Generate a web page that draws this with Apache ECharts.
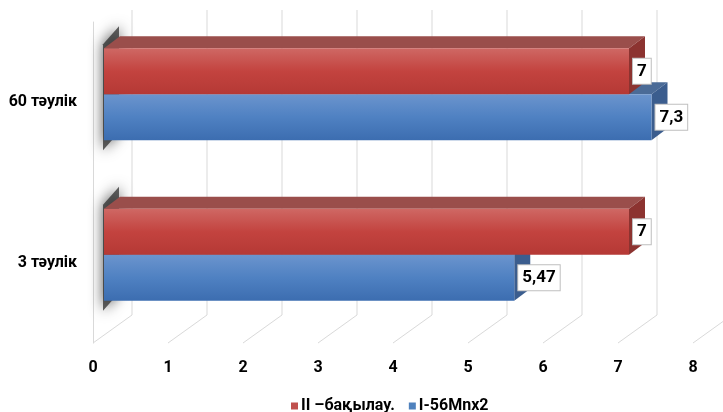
<!DOCTYPE html>
<html>
<head>
<meta charset="utf-8">
<script src="https://cdn.jsdelivr.net/npm/echarts@6/dist/echarts.min.js"></script>
<style>
  html, body { margin: 0; padding: 0; background: #ffffff; }
  #chart { width: 723px; height: 412px; }
</style>
</head>
<body>
<div id="chart"></div>
<script>
// Categories (bottom to top on the category axis)
const categories = ['3 тәулік', '60 тәулік'];
// Series names
const controlName = 'II –бақылау.';
const treatedName = 'I-56Mnx2';
// Values per category, same order as categories
const controlValues = [7, 7];
const treatedValues = [5.47, 7.3];
// Value axis ticks
const xTicks = [0, 1, 2, 3, 4, 5, 6, 7, 8];

const FONT = "'Liberation Sans Narrow', 'Arial Narrow', Roboto, sans-serif";

// Oblique projection used for the pseudo-3D look
const FRONT_SHIFT = [11, -8];     // bar front face relative to the floor's front edge
const BAR_DEPTH = [16, -12];      // depth of each bar
const WALL_DEPTH_BOTTOM = [39, -28];
const WALL_TOP_RAISE = 12;
const BAR_THICK = 46;

const palette = {
  red: {
    front: ['#cf6864', '#c3433f', '#b53935'],
    top: '#9a4e4b',
    side: '#8c3330',
    legend: '#c0504d'
  },
  blue: {
    front: ['#6b94cd', '#4f81c2', '#3c6db0'],
    top: '#4b6b97',
    side: '#3b5d8e',
    legend: '#4f81bd'
  }
};

function fmt(v) {
  return String(v).replace('.', ',');
}

function makeBarRenderer(colors, upper) {
  return function (params, api) {
    const value = api.value(0);
    const cat = api.value(1);
    const p0 = api.coord([0, cat]);
    const p1 = api.coord([value, cat]);
    const x0 = p0[0] + FRONT_SHIFT[0];
    const x1 = p1[0] + FRONT_SHIFT[0];
    const yc = p1[1] + FRONT_SHIFT[1];
    const yTop = upper ? yc - BAR_THICK : yc;
    const yBot = upper ? yc : yc + BAR_THICK;
    const dx = BAR_DEPTH[0], dy = BAR_DEPTH[1];
    return {
      type: 'group',
      children: [
        {
          type: 'polygon',
          shape: { points: [[x0, yTop], [x1, yTop], [x1 + dx, yTop + dy], [x0 + dx, yTop + dy]] },
          style: { fill: colors.top }
        },
        {
          type: 'polygon',
          shape: { points: [[x1, yTop], [x1 + dx, yTop + dy], [x1 + dx, yBot + dy], [x1, yBot]] },
          style: { fill: colors.side }
        },
        {
          type: 'rect',
          shape: { x: x0, y: yTop, width: x1 - x0, height: yBot - yTop },
          style: {
            fill: new echarts.graphic.LinearGradient(0, 0, 0, 1, [
              { offset: 0, color: colors.front[0] },
              { offset: 0.5, color: colors.front[1] },
              { offset: 1, color: colors.front[2] }
            ])
          }
        },
        {
          type: 'text',
          x: x1 + 4,
          y: (yTop + yBot) / 2,
          style: {
            text: fmt(value),
            fill: '#000000',
            font: 'bold 17px ' + FONT,
            align: 'left',
            verticalAlign: 'middle',
            backgroundColor: '#ffffff',
            borderColor: '#bfbfbf',
            borderWidth: 1,
            padding: [4, 4, 4, 4]
          }
        }
      ]
    };
  };
}

const chart = echarts.init(document.getElementById('chart'), null, { renderer: 'canvas' });

chart.setOption({
  animation: false,
  backgroundColor: '#ffffff',
  grid: { left: 93, top: 22, width: 600, height: 321, containLabel: false },
  xAxis: {
    type: 'value',
    min: xTicks[0],
    max: xTicks[xTicks.length - 1],
    interval: 1,
    axisLine: { show: false },
    axisTick: { show: false },
    splitLine: { show: false },
    axisLabel: {
      margin: 17,
      color: '#000000',
      fontFamily: FONT,
      fontWeight: 'bold',
      fontSize: 16
    }
  },
  yAxis: {
    type: 'category',
    data: categories,
    axisLine: { show: true, lineStyle: { color: '#d9d9d9', width: 1 } },
    axisTick: { show: false },
    splitLine: { show: false },
    axisLabel: {
      margin: 16,
      color: '#000000',
      fontFamily: FONT,
      fontWeight: 'bold',
      fontSize: 16,
      padding: [6, 0, 0, 0]
    }
  },
  legend: {
    data: [
      { name: controlName, icon: 'rect', itemStyle: { color: palette.red.legend } },
      { name: treatedName, icon: 'rect', itemStyle: { color: palette.blue.legend } }
    ],
    left: 286,
    top: 393,
    itemWidth: 7,
    itemHeight: 7,
    itemGap: 14,
    textStyle: { color: '#000000', fontFamily: FONT, fontWeight: 'bold', fontSize: 16, padding: [0, 0, 0, -2] }
  },
  series: [
    {
      // back wall verticals and floor lines for each tick
      type: 'custom',
      silent: true,
      clip: false,
      z: 1,
      data: xTicks.map(function (v) { return [v, 0]; }),
      renderItem: function (params, api) {
        const p = api.coord([api.value(0), 0]);
        const cs = params.coordSys;
        const frontBottom = cs.y + cs.height;
        const backX = p[0] + WALL_DEPTH_BOTTOM[0];
        const backBottom = frontBottom + WALL_DEPTH_BOTTOM[1];
        const backTop = cs.y - WALL_TOP_RAISE;
        const lineStyle = { stroke: '#d9d9d9', lineWidth: 1 };
        return {
          type: 'group',
          children: [
            { type: 'line', shape: { x1: backX, y1: backTop, x2: backX, y2: backBottom }, style: lineStyle },
            { type: 'line', shape: { x1: p[0], y1: frontBottom, x2: backX, y2: backBottom }, style: lineStyle }
          ]
        };
      }
    },
    {
      // soft shadow cast on the side wall by each bar pair
      type: 'custom',
      silent: true,
      clip: false,
      z: 2,
      data: categories.map(function (c, i) { return [0, i]; }),
      renderItem: function (params, api) {
        const p = api.coord([0, api.value(1)]);
        const x0 = p[0] + FRONT_SHIFT[0];
        const yc = p[1] + FRONT_SHIFT[1];
        const yTop = yc - BAR_THICK;
        const yBot = yc + BAR_THICK;
        return {
          type: 'polygon',
          shape: { points: [[x0 - 1, yTop - 4], [x0 + 15, yTop - 22], [x0 + 15, yBot - 8], [x0 - 1, yBot + 10]] },
          style: {
            fill: 'rgba(45,45,45,0.75)',
            shadowBlur: 14,
            shadowColor: 'rgba(0,0,0,0.9)'
          }
        };
      }
    },
    {
      name: treatedName,
      type: 'custom',
      z: 3,
      itemStyle: { color: palette.blue.legend },
      encode: { x: 0, y: 1 },
      data: treatedValues.map(function (v, i) { return [v, i]; }),
      renderItem: makeBarRenderer(palette.blue, false)
    },
    {
      name: controlName,
      type: 'custom',
      z: 4,
      itemStyle: { color: palette.red.legend },
      encode: { x: 0, y: 1 },
      data: controlValues.map(function (v, i) { return [v, i]; }),
      renderItem: makeBarRenderer(palette.red, true)
    }
  ]
});
</script>
</body>
</html>
